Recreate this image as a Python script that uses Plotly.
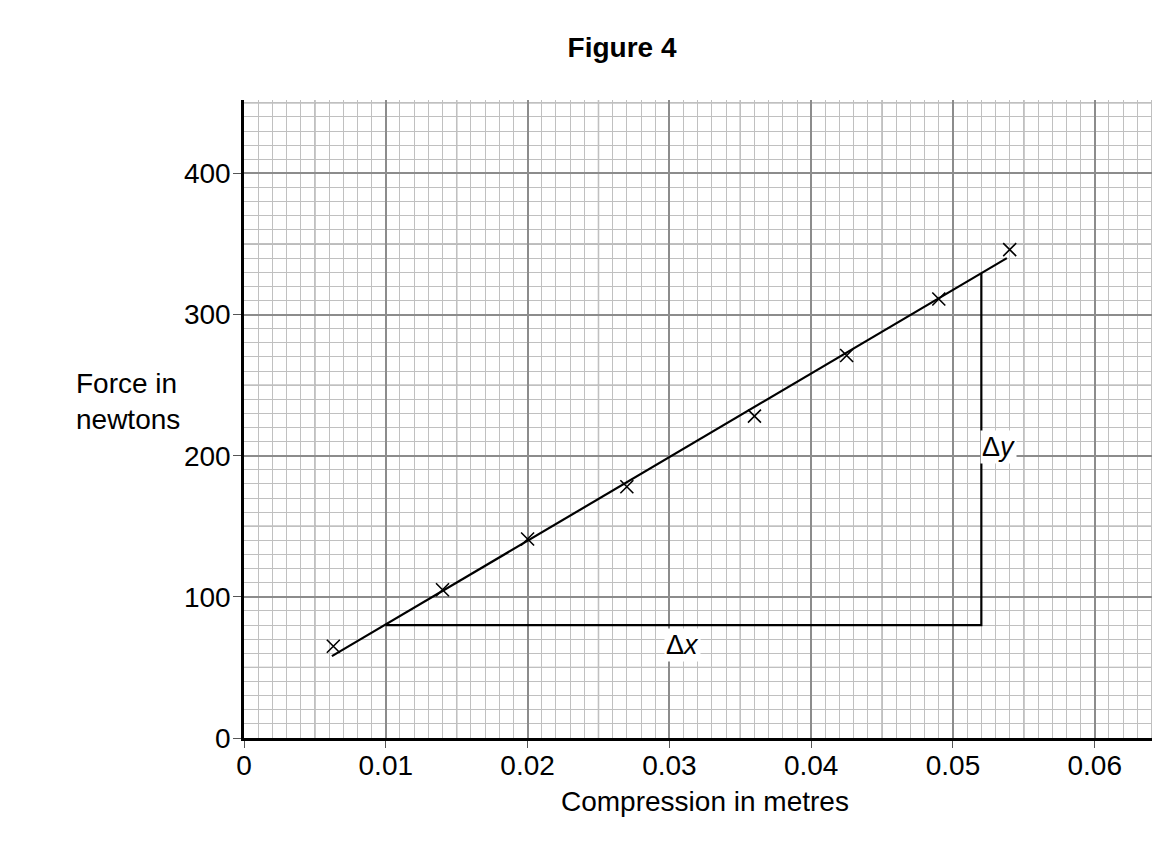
"""
Figure 4: force against compression for a spring, with gradient triangle
"""
import numpy as np
import plotly.graph_objects as go

compression = [0.0063, 0.014, 0.020, 0.027, 0.036, 0.0425, 0.049, 0.054]
force = [65, 105, 141, 178, 228, 271, 311, 346]

# Line of best fit end points
fit_x = [0.0062, 0.0538]
fit_y = [58, 340]

# Gradient triangle corners
tri_x = [0.010, 0.052, 0.052]
tri_y = [80, 80, 329]

x_ticks = [0, 0.01, 0.02, 0.03, 0.04, 0.05, 0.06]
x_labels = ['0', '0.01', '0.02', '0.03', '0.04', '0.05', '0.06']
y_ticks = [0, 100, 200, 300, 400]

FONT = 'Liberation Sans, Arial, sans-serif'
FS = 28

fig = go.Figure()

# medium grid lines at the half-way marks (0.005, 50)
for xv in np.arange(0.005, 0.065, 0.01):
    fig.add_shape(type='line', x0=xv, x1=xv, y0=0, y1=1, yref='paper',
                  line=dict(color='#a6a6a6', width=1.4), layer='below')
for yv in np.arange(50, 451, 100):
    fig.add_shape(type='line', y0=yv, y1=yv, x0=0, x1=1, xref='paper',
                  line=dict(color='#a6a6a6', width=1.4), layer='below')

fig.add_trace(go.Scatter(
    x=fit_x, y=fit_y, mode='lines',
    line=dict(color='black', width=2.2), hoverinfo='skip', showlegend=False))

fig.add_trace(go.Scatter(
    x=tri_x, y=tri_y, mode='lines',
    line=dict(color='black', width=2.2), hoverinfo='skip', showlegend=False))

fig.add_trace(go.Scatter(
    x=compression, y=force, mode='markers',
    marker=dict(symbol='x-thin', size=13, line=dict(color='black', width=1.6)),
    showlegend=False))

fig.add_annotation(x=0.0309, y=66, text='Δ<i>x</i>', showarrow=False,
                   bgcolor='white', font=dict(size=FS - 1, family=FONT, color='black'))
fig.add_annotation(x=0.0532, y=206, text='Δ<i>y</i>', showarrow=False,
                   bgcolor='white', font=dict(size=FS - 1, family=FONT, color='black'))

# axis titles
fig.add_annotation(x=-0.1855, y=0.527, xref='paper', yref='paper',
                   xanchor='left', yanchor='middle',
                   text='Force in<br>newtons', showarrow=False, align='left',
                   font=dict(size=FS, family=FONT, color='black'))
fig.add_annotation(x=0.503, y=-0.1, xref='paper', yref='paper',
                   xanchor='center', yanchor='middle',
                   text='Compression in metres', showarrow=False,
                   font=dict(size=FS, family=FONT, color='black'))

fig.update_xaxes(
    range=[0, 0.0646], tickvals=x_ticks, ticktext=x_labels,
    showgrid=True, gridcolor='#8c8c8c', gridwidth=1.6,
    minor=dict(dtick=0.001, showgrid=True, gridcolor='#c0c0c0', gridwidth=1),
    showline=True, linecolor='black', linewidth=2.5,
    ticks='outside', ticklen=7, tickcolor='#555555',
    ticklabelstandoff=-6,
    zeroline=False,
    tickfont=dict(size=FS, family=FONT, color='black'),
)
fig.update_yaxes(
    range=[0, 452], tickvals=y_ticks,
    showgrid=True, gridcolor='#8c8c8c', gridwidth=1.6,
    minor=dict(dtick=10, showgrid=True, gridcolor='#c0c0c0', gridwidth=1),
    showline=True, linecolor='black', linewidth=2.5,
    ticks='outside', ticklen=8, tickcolor='#555555',
    ticklabelstandoff=-3,
    zeroline=False,
    tickfont=dict(size=FS, family=FONT, color='black'),
)

# page has an 8px body margin, so the figure is sized/offset to compensate
fig.update_layout(
    title=dict(text='<b>Figure 4</b>', x=0.533, xanchor='center',
               y=0.954, yanchor='middle', yref='container',
               font=dict(size=FS, family=FONT, color='black')),
    width=1152, height=842,
    margin=dict(l=236, r=0, t=92, b=112),
    paper_bgcolor='white', plot_bgcolor='white',
)

fig.write_html("out.html")
